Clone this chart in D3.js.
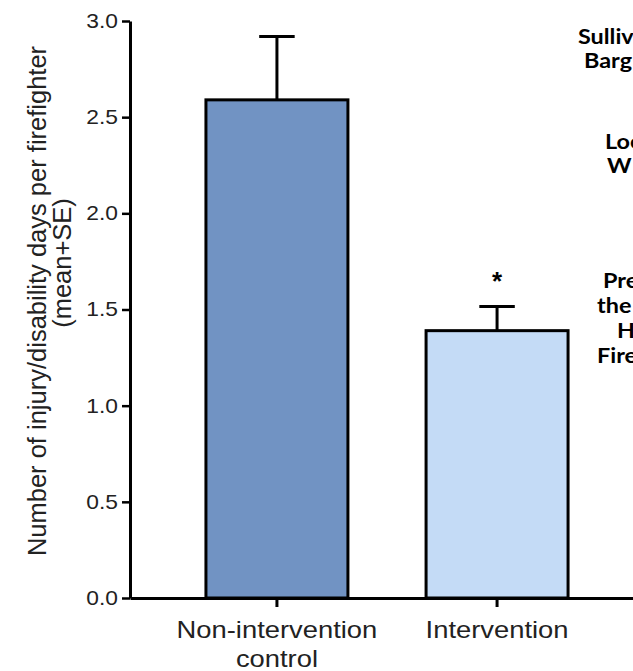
<!DOCTYPE html>
<html>
<head>
<meta charset="utf-8">
<script src="https://cdn.jsdelivr.net/npm/d3@7"></script>
<style>
  body { margin: 0; background: #fff; }
  svg { display: block; }
  .axis text { font-family: "Liberation Sans", Arial, sans-serif; fill: #222; }
  .side { font-family: Lato, "Open Sans", sans-serif; font-weight: 700; font-size: 20px; fill: #000; }
</style>
</head>
<body>
<svg id="chart"></svg>
<script>

const width = 633;
const height = 671;

// chart values
const groups = ["Non-intervention control", "Intervention"];
const labelLines = [["Non-intervention", "control"], ["Intervention"]];
const means = [2.59, 1.39];
const errors = [0.33, 0.125];
const barColors = ["#7193c3", "#c4dbf6"];
const significant = [false, true];
const yTicks = [0, 0.5, 1, 1.5, 2, 2.5, 3];

// slide text on the right, cut by the page edge
const sideText = ["Sulliv", "Barg", "Loc", "W", "Pre", "the", "H", "Fire"];
const sideX = [578, 584, 605, 607, 603, 597, 617, 597];
const sideY = [44, 68, 149, 173, 288, 313, 338, 363];

const bars = groups.map((g, i) => ({ group: g, mean: means[i], se: errors[i], color: barColors[i], star: significant[i] }));

let svg = d3.select("#chart")
            .attr("width", width)
            .attr("height", height)

let xScale = d3.scaleBand()
               .domain(groups)
               .range([130, 644])
               .paddingInner(0.355)
               .paddingOuter(0.345)

let yScale = d3.scaleLinear()
               .domain([0, 3])
               .range([598, 21])

let yAxis = d3.axisLeft(yScale)
              .tickValues(yTicks)
              .tickFormat(d3.format(".1f"))
              .tickSize(8)
              .tickSizeOuter(0)
              .tickPadding(4)

let xAxis = d3.axisBottom(xScale)
              .tickSize(9)
              .tickSizeOuter(0)
              .tickFormat("")

// bars
svg.selectAll("rect.bar")
   .data(bars)
   .enter()
   .append("rect")
   .attr("class", "bar")
   .attr("x", d => xScale(d.group))
   .attr("y", d => yScale(d.mean))
   .attr("width", xScale.bandwidth())
   .attr("height", d => yScale(0) - yScale(d.mean))
   .attr("fill", d => d.color)
   .attr("stroke", "#000")
   .attr("stroke-width", 3)

// error bars (upper only)
const capW = xScale.bandwidth() * 0.25;
let err = svg.selectAll("g.err")
             .data(bars)
             .enter()
             .append("g")
             .attr("class", "err")
             .attr("stroke", "#000")
             .attr("stroke-width", 3)

err.append("line")
   .attr("x1", d => xScale(d.group) + xScale.bandwidth() / 2)
   .attr("x2", d => xScale(d.group) + xScale.bandwidth() / 2)
   .attr("y1", d => yScale(d.mean))
   .attr("y2", d => yScale(d.mean + d.se))

err.append("line")
   .attr("x1", d => xScale(d.group) + xScale.bandwidth() / 2 - capW / 2)
   .attr("x2", d => xScale(d.group) + xScale.bandwidth() / 2 + capW / 2)
   .attr("y1", d => yScale(d.mean + d.se))
   .attr("y2", d => yScale(d.mean + d.se))

svg.selectAll("text.star")
   .data(bars.filter(d => d.star))
   .enter()
   .append("text")
   .attr("class", "star")
   .attr("x", d => xScale(d.group) + xScale.bandwidth() / 2)
   .attr("y", d => yScale(d.mean + d.se) - 17)
   .attr("text-anchor", "middle")
   .attr("font-family", "Liberation Sans, Arial, sans-serif")
   .attr("font-weight", 700)
   .attr("font-size", 26)
   .text("*")

// axes
let gy = svg.append("g")
            .attr("class", "axis")
            .attr("transform", "translate(130,0)")
            .call(yAxis)
gy.select(".domain").attr("stroke-width", 3)
gy.selectAll(".tick line").attr("stroke-width", 2.5)
gy.selectAll(".tick text")
  .attr("font-size", 20)
  .attr("transform", "translate(-12,0) scale(1.14,1) translate(12,0)")

let gx = svg.append("g")
            .attr("class", "axis")
            .attr("transform", `translate(0,${yScale(0)})`)
            .call(xAxis)
gx.select(".domain").attr("stroke-width", 3)
gx.selectAll(".tick line").attr("stroke-width", 3)

gx.selectAll(".tick")
  .each(function(d, i) {
      let t = d3.select(this).append("text")
                .attr("text-anchor", "middle")
                .attr("font-size", 23)
                .attr("fill", "#222")
                .attr("transform", "scale(1.19,1)")
      labelLines[i].forEach((line, j) => {
          t.append("tspan")
           .attr("x", 0)
           .attr("y", 40 + j * 29)
           .text(line)
      })
  })

// y axis title, two lines
svg.append("text")
   .attr("transform", "translate(46,301) rotate(-90)")
   .attr("text-anchor", "middle")
   .attr("font-family", "Liberation Sans, Arial, sans-serif")
   .attr("font-size", 25.5)
   .attr("fill", "#222")
   .text("Number of injury/disability days per firefighter")

svg.append("text")
   .attr("transform", "translate(71,263) rotate(-90)")
   .attr("text-anchor", "middle")
   .attr("font-family", "Liberation Sans, Arial, sans-serif")
   .attr("font-size", 25.5)
   .attr("fill", "#222")
   .text("(mean+SE)")

svg.selectAll("text.side")
   .data(sideText)
   .enter()
   .append("text")
   .attr("class", "side")
   .attr("transform", (d, i) => `translate(${sideX[i]},${sideY[i]}) scale(1.17,1)`)
   .text(d => d)

</script>
</body>
</html>
